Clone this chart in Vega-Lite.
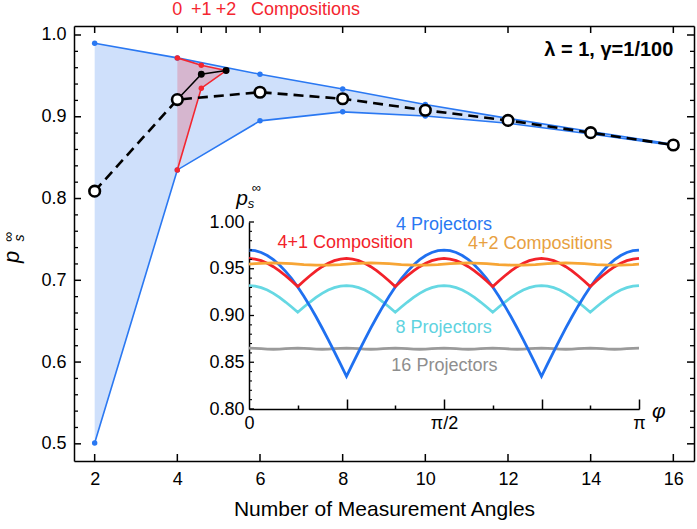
{
"$schema": "https://vega.github.io/schema/vega-lite/v6.json",
"width": 620, "height": 435,
"autosize": {"type": "none"},
"padding": {"left": 74, "top": 26, "right": 3, "bottom": 68},
"background": "white",
"config": {
  "view": {"stroke": null},
  "font": "Liberation Sans",
  "axis": {"grid": false, "labelFont": "Liberation Sans", "labelFontSize": 18, "labelColor": "black", "tickColor": "black", "tickWidth": 1.5, "domainColor": "black", "domainWidth": 1.5, "titleFont": "Liberation Sans", "titleFontWeight": "normal", "titleColor": "black", "labelFlush": false, "labelOverlap": false}
},
"datasets": {
  "main": [
    {"n":2,"hi":0.990,"lo":0.501,"avg":0.809},
    {"n":4,"hi":0.972,"lo":0.835,"avg":0.921},
    {"n":6,"hi":0.952,"lo":0.895,"avg":0.930},
    {"n":8,"hi":0.934,"lo":0.906,"avg":0.922},
    {"n":10,"hi":0.915,"lo":0.901,"avg":0.908},
    {"n":12,"hi":0.898,"lo":0.892,"avg":0.8955},
    {"n":14,"hi":0.882,"lo":0.879,"avg":0.8805},
    {"n":16,"hi":0.8662,"lo":0.8650,"avg":0.8655}
  ],
  "comp": [
    {"n":4,"rhi":0.972,"rlo":0.835,"blk":0.921},
    {"n":4.58,"rhi":0.963,"rlo":0.935,"blk":0.952},
    {"n":5.18,"rhi":0.9565,"rlo":0.9565,"blk":0.9565}
  ],
  "xtb": [{"n":2},{"n":4},{"n":6},{"n":8},{"n":10},{"n":12},{"n":14},{"n":16}],
  "xtt": [{"n":2},{"n":4},{"n":4.58},{"n":5.18},{"n":6},{"n":8},{"n":10},{"n":12},{"n":14},{"n":16}],
  "ytM": [{"v":0.5},{"v":0.6},{"v":0.7},{"v":0.8},{"v":0.9},{"v":1.0}],
  "ytm": [{"v":0.52},{"v":0.54},{"v":0.56},{"v":0.58},{"v":0.62},{"v":0.64},{"v":0.66},{"v":0.68},{"v":0.72},{"v":0.74},{"v":0.76},{"v":0.78},{"v":0.82},{"v":0.84},{"v":0.86},{"v":0.88},{"v":0.92},{"v":0.94},{"v":0.96},{"v":0.98}],
  "iytM": [{"v":0.8},{"v":0.85},{"v":0.9},{"v":0.95},{"v":1.0}],
  "iytm": [{"v":0.81},{"v":0.82},{"v":0.83},{"v":0.84},{"v":0.86},{"v":0.87},{"v":0.88},{"v":0.89},{"v":0.91},{"v":0.92},{"v":0.93},{"v":0.94},{"v":0.96},{"v":0.97},{"v":0.98},{"v":0.99}],
  "inset": [
    {"t":0,"b":0.97,"r":0.961,"c":0.932,"o":0.955,"g":0.8651},
    {"t":0.015625,"b":0.96935,"r":0.9604,"c":0.9315,"o":0.9555,"g":0.8649},
    {"t":0.03125,"b":0.96741,"r":0.9587,"c":0.9298,"o":0.9558,"g":0.8645},
    {"t":0.046875,"b":0.96419,"r":0.9559,"c":0.9272,"o":0.9561,"g":0.8641},
    {"t":0.0625,"b":0.95972,"r":0.9522,"c":0.9237,"o":0.9562,"g":0.8639},
    {"t":0.078125,"b":0.95406,"r":0.9477,"c":0.9193,"o":0.9561,"g":0.8641},
    {"t":0.09375,"b":0.94725,"r":0.9425,"c":0.9144,"o":0.9558,"g":0.8645},
    {"t":0.109375,"b":0.93936,"r":0.9369,"c":0.9091,"o":0.9555,"g":0.8649},
    {"t":0.125,"b":0.93046,"r":0.931,"c":0.9035,"o":0.955,"g":0.8651},
    {"t":0.140625,"b":0.92064,"r":0.9369,"c":0.9091,"o":0.9545,"g":0.8649},
    {"t":0.15625,"b":0.91,"r":0.9425,"c":0.9144,"o":0.9542,"g":0.8645},
    {"t":0.171875,"b":0.89864,"r":0.9477,"c":0.9193,"o":0.9539,"g":0.8641},
    {"t":0.1875,"b":0.88666,"r":0.9522,"c":0.9237,"o":0.9538,"g":0.8639},
    {"t":0.203125,"b":0.87419,"r":0.9559,"c":0.9272,"o":0.9539,"g":0.8641},
    {"t":0.21875,"b":0.86134,"r":0.9587,"c":0.9298,"o":0.9542,"g":0.8645},
    {"t":0.234375,"b":0.84823,"r":0.9604,"c":0.9315,"o":0.9545,"g":0.8649},
    {"t":0.25,"b":0.835,"r":0.961,"c":0.932,"o":0.955,"g":0.8651},
    {"t":0.265625,"b":0.84823,"r":0.9604,"c":0.9315,"o":0.9555,"g":0.8649},
    {"t":0.28125,"b":0.86134,"r":0.9587,"c":0.9298,"o":0.9558,"g":0.8645},
    {"t":0.296875,"b":0.87419,"r":0.9559,"c":0.9272,"o":0.9561,"g":0.8641},
    {"t":0.3125,"b":0.88666,"r":0.9522,"c":0.9237,"o":0.9562,"g":0.8639},
    {"t":0.328125,"b":0.89864,"r":0.9477,"c":0.9193,"o":0.9561,"g":0.8641},
    {"t":0.34375,"b":0.91,"r":0.9425,"c":0.9144,"o":0.9558,"g":0.8645},
    {"t":0.359375,"b":0.92064,"r":0.9369,"c":0.9091,"o":0.9555,"g":0.8649},
    {"t":0.375,"b":0.93046,"r":0.931,"c":0.9035,"o":0.955,"g":0.8651},
    {"t":0.390625,"b":0.93936,"r":0.9369,"c":0.9091,"o":0.9545,"g":0.8649},
    {"t":0.40625,"b":0.94725,"r":0.9425,"c":0.9144,"o":0.9542,"g":0.8645},
    {"t":0.421875,"b":0.95406,"r":0.9477,"c":0.9193,"o":0.9539,"g":0.8641},
    {"t":0.4375,"b":0.95972,"r":0.9522,"c":0.9237,"o":0.9538,"g":0.8639},
    {"t":0.453125,"b":0.96419,"r":0.9559,"c":0.9272,"o":0.9539,"g":0.8641},
    {"t":0.46875,"b":0.96741,"r":0.9587,"c":0.9298,"o":0.9542,"g":0.8645},
    {"t":0.484375,"b":0.96935,"r":0.9604,"c":0.9315,"o":0.9545,"g":0.8649},
    {"t":0.5,"b":0.97,"r":0.961,"c":0.932,"o":0.955,"g":0.8651},
    {"t":0.515625,"b":0.96935,"r":0.9604,"c":0.9315,"o":0.9555,"g":0.8649},
    {"t":0.53125,"b":0.96741,"r":0.9587,"c":0.9298,"o":0.9558,"g":0.8645},
    {"t":0.546875,"b":0.96419,"r":0.9559,"c":0.9272,"o":0.9561,"g":0.8641},
    {"t":0.5625,"b":0.95972,"r":0.9522,"c":0.9237,"o":0.9562,"g":0.8639},
    {"t":0.578125,"b":0.95406,"r":0.9477,"c":0.9193,"o":0.9561,"g":0.8641},
    {"t":0.59375,"b":0.94725,"r":0.9425,"c":0.9144,"o":0.9558,"g":0.8645},
    {"t":0.609375,"b":0.93936,"r":0.9369,"c":0.9091,"o":0.9555,"g":0.8649},
    {"t":0.625,"b":0.93046,"r":0.931,"c":0.9035,"o":0.955,"g":0.8651},
    {"t":0.640625,"b":0.92064,"r":0.9369,"c":0.9091,"o":0.9545,"g":0.8649},
    {"t":0.65625,"b":0.91,"r":0.9425,"c":0.9144,"o":0.9542,"g":0.8645},
    {"t":0.671875,"b":0.89864,"r":0.9477,"c":0.9193,"o":0.9539,"g":0.8641},
    {"t":0.6875,"b":0.88666,"r":0.9522,"c":0.9237,"o":0.9538,"g":0.8639},
    {"t":0.703125,"b":0.87419,"r":0.9559,"c":0.9272,"o":0.9539,"g":0.8641},
    {"t":0.71875,"b":0.86134,"r":0.9587,"c":0.9298,"o":0.9542,"g":0.8645},
    {"t":0.734375,"b":0.84823,"r":0.9604,"c":0.9315,"o":0.9545,"g":0.8649},
    {"t":0.75,"b":0.835,"r":0.961,"c":0.932,"o":0.955,"g":0.8651},
    {"t":0.765625,"b":0.84823,"r":0.9604,"c":0.9315,"o":0.9555,"g":0.8649},
    {"t":0.78125,"b":0.86134,"r":0.9587,"c":0.9298,"o":0.9558,"g":0.8645},
    {"t":0.796875,"b":0.87419,"r":0.9559,"c":0.9272,"o":0.9561,"g":0.8641},
    {"t":0.8125,"b":0.88666,"r":0.9522,"c":0.9237,"o":0.9562,"g":0.8639},
    {"t":0.828125,"b":0.89864,"r":0.9477,"c":0.9193,"o":0.9561,"g":0.8641},
    {"t":0.84375,"b":0.91,"r":0.9425,"c":0.9144,"o":0.9558,"g":0.8645},
    {"t":0.859375,"b":0.92064,"r":0.9369,"c":0.9091,"o":0.9555,"g":0.8649},
    {"t":0.875,"b":0.93046,"r":0.931,"c":0.9035,"o":0.955,"g":0.8651},
    {"t":0.890625,"b":0.93936,"r":0.9369,"c":0.9091,"o":0.9545,"g":0.8649},
    {"t":0.90625,"b":0.94725,"r":0.9425,"c":0.9144,"o":0.9542,"g":0.8645},
    {"t":0.921875,"b":0.95406,"r":0.9477,"c":0.9193,"o":0.9539,"g":0.8641},
    {"t":0.9375,"b":0.95972,"r":0.9522,"c":0.9237,"o":0.9538,"g":0.8639},
    {"t":0.953125,"b":0.96419,"r":0.9559,"c":0.9272,"o":0.9539,"g":0.8641},
    {"t":0.96875,"b":0.96741,"r":0.9587,"c":0.9298,"o":0.9542,"g":0.8645},
    {"t":0.984375,"b":0.96935,"r":0.9604,"c":0.9315,"o":0.9545,"g":0.8649},
    {"t":1,"b":0.97,"r":0.961,"c":0.932,"o":0.955,"g":0.8651}
  ],
  "ilab": [
    {"t":0.5,"v":0.997,"label":"4 Projectors","s":"b"},
    {"t":0.247,"v":0.9774,"label":"4+1 Composition","s":"r"},
    {"t":0.747,"v":0.9763,"label":"4+2 Compositions","s":"o"},
    {"t":0.499,"v":0.8864,"label":"8 Projectors","s":"c"},
    {"t":0.501,"v":0.846,"label":"16 Projectors","s":"g"}
  ]
},
"resolve": {"scale": {"x": "independent", "y": "independent"}},
"layer": [
{
  "resolve": {"axis": {"x": "independent", "y": "independent"}},
  "layer": [
    {"data": {"name": "main"}, "mark": {"type": "area", "color": "#cfe0fb", "opacity": 1},
     "encoding": {
       "x": {"field": "n", "type": "quantitative", "scale": {"domain": [1.5, 16.5], "nice": false, "zero": false},
             "axis": {"orient": "bottom", "values": [2,4,6,8,10,12,14,16], "ticks": false, "labelPadding": 9, "title": "Number of Measurement Angles", "titleFontSize": 21, "titlePadding": 10}},
       "y": {"field": "lo", "type": "quantitative", "scale": {"domain": [0.479, 1.011], "nice": false, "zero": false},
             "axis": {"orient": "left", "values": [0.5,0.6,0.7,0.8,0.9,1.0], "format": ".1f", "ticks": false, "labelPadding": 8, "title": null}},
       "y2": {"field": "hi"}}},
    {"data": {"name": "comp"}, "mark": {"type": "area", "color": "#d6b6cf", "opacity": 1},
     "encoding": {
       "x": {"field": "n", "type": "quantitative", "scale": {"domain": [1.5, 16.5], "nice": false, "zero": false},
             "axis": {"orient": "top", "values": [2,4,6,8,10,12,14,16], "labels": false, "ticks": false, "title": null}},
       "y": {"field": "rlo", "type": "quantitative", "scale": {"domain": [0.479, 1.011], "nice": false, "zero": false},
             "axis": {"orient": "right", "values": [0.5,0.6,0.7,0.8,0.9,1.0], "labels": false, "ticks": false, "title": null}},
       "y2": {"field": "rhi"}}},
    {"data": {"name": "main"}, "mark": {"type": "line", "color": "#2a78f2", "strokeWidth": 1.6},
     "encoding": {
       "x": {"field": "n", "type": "quantitative", "scale": {"domain": [1.5, 16.5], "nice": false, "zero": false}, "axis": null},
       "y": {"field": "hi", "type": "quantitative", "scale": {"domain": [0.479, 1.011], "nice": false, "zero": false}, "axis": null}}},
    {"data": {"name": "main"}, "mark": {"type": "line", "color": "#2a78f2", "strokeWidth": 1.6},
     "encoding": {
       "x": {"field": "n", "type": "quantitative", "scale": {"domain": [1.5, 16.5], "nice": false, "zero": false}, "axis": null},
       "y": {"field": "lo", "type": "quantitative", "scale": {"domain": [0.479, 1.011], "nice": false, "zero": false}, "axis": null}}},
    {"data": {"name": "main"}, "mark": {"type": "point", "filled": true, "color": "#2a78f2", "size": 30, "opacity": 1},
     "encoding": {
       "x": {"field": "n", "type": "quantitative", "scale": {"domain": [1.5, 16.5], "nice": false, "zero": false}, "axis": null},
       "y": {"field": "hi", "type": "quantitative", "scale": {"domain": [0.479, 1.011], "nice": false, "zero": false}, "axis": null}}},
    {"data": {"name": "main"}, "mark": {"type": "point", "filled": true, "color": "#2a78f2", "size": 30, "opacity": 1},
     "encoding": {
       "x": {"field": "n", "type": "quantitative", "scale": {"domain": [1.5, 16.5], "nice": false, "zero": false}, "axis": null},
       "y": {"field": "lo", "type": "quantitative", "scale": {"domain": [0.479, 1.011], "nice": false, "zero": false}, "axis": null}}},
    {"data": {"name": "comp"}, "mark": {"type": "line", "color": "#f42630", "strokeWidth": 1.6},
     "encoding": {
       "x": {"field": "n", "type": "quantitative", "scale": {"domain": [1.5, 16.5], "nice": false, "zero": false}, "axis": null},
       "y": {"field": "rhi", "type": "quantitative", "scale": {"domain": [0.479, 1.011], "nice": false, "zero": false}, "axis": null}}},
    {"data": {"name": "comp"}, "mark": {"type": "line", "color": "#f42630", "strokeWidth": 1.6},
     "encoding": {
       "x": {"field": "n", "type": "quantitative", "scale": {"domain": [1.5, 16.5], "nice": false, "zero": false}, "axis": null},
       "y": {"field": "rlo", "type": "quantitative", "scale": {"domain": [0.479, 1.011], "nice": false, "zero": false}, "axis": null}}},
    {"data": {"name": "comp"}, "mark": {"type": "point", "filled": true, "color": "#f42630", "size": 30, "opacity": 1},
     "encoding": {
       "x": {"field": "n", "type": "quantitative", "scale": {"domain": [1.5, 16.5], "nice": false, "zero": false}, "axis": null},
       "y": {"field": "rhi", "type": "quantitative", "scale": {"domain": [0.479, 1.011], "nice": false, "zero": false}, "axis": null}}},
    {"data": {"name": "comp"}, "mark": {"type": "point", "filled": true, "color": "#f42630", "size": 30, "opacity": 1},
     "encoding": {
       "x": {"field": "n", "type": "quantitative", "scale": {"domain": [1.5, 16.5], "nice": false, "zero": false}, "axis": null},
       "y": {"field": "rlo", "type": "quantitative", "scale": {"domain": [0.479, 1.011], "nice": false, "zero": false}, "axis": null}}},
    {"data": {"name": "comp"}, "mark": {"type": "line", "color": "black", "strokeWidth": 1.5},
     "encoding": {
       "x": {"field": "n", "type": "quantitative", "scale": {"domain": [1.5, 16.5], "nice": false, "zero": false}, "axis": null},
       "y": {"field": "blk", "type": "quantitative", "scale": {"domain": [0.479, 1.011], "nice": false, "zero": false}, "axis": null}}},
    {"data": {"name": "comp"}, "mark": {"type": "point", "filled": true, "color": "black", "size": 48, "opacity": 1},
     "encoding": {
       "x": {"field": "n", "type": "quantitative", "scale": {"domain": [1.5, 16.5], "nice": false, "zero": false}, "axis": null},
       "y": {"field": "blk", "type": "quantitative", "scale": {"domain": [0.479, 1.011], "nice": false, "zero": false}, "axis": null}}},
    {"data": {"name": "main"}, "mark": {"type": "line", "color": "black", "strokeWidth": 2.6, "strokeDash": [10, 6]},
     "encoding": {
       "x": {"field": "n", "type": "quantitative", "scale": {"domain": [1.5, 16.5], "nice": false, "zero": false}, "axis": null},
       "y": {"field": "avg", "type": "quantitative", "scale": {"domain": [0.479, 1.011], "nice": false, "zero": false}, "axis": null}}},
    {"data": {"name": "main"}, "mark": {"type": "point", "filled": true, "fill": "white", "stroke": "black", "strokeWidth": 2.6, "size": 112, "opacity": 1},
     "encoding": {
       "x": {"field": "n", "type": "quantitative", "scale": {"domain": [1.5, 16.5], "nice": false, "zero": false}, "axis": null},
       "y": {"field": "avg", "type": "quantitative", "scale": {"domain": [0.479, 1.011], "nice": false, "zero": false}, "axis": null}}},
    {"data": {"name": "xtb"}, "mark": {"type": "tick", "orient": "vertical", "size": 7, "thickness": 1.5, "color": "black", "opacity": 1, "yOffset": -3.5},
     "encoding": {
       "x": {"field": "n", "type": "quantitative", "scale": {"domain": [1.5, 16.5], "nice": false, "zero": false}, "axis": null},
       "y": {"datum": 0.479, "type": "quantitative", "scale": {"domain": [0.479, 1.011], "nice": false, "zero": false}, "axis": null}}},
    {"data": {"name": "xtt"}, "mark": {"type": "tick", "orient": "vertical", "size": 7, "thickness": 1.5, "color": "black", "opacity": 1, "yOffset": 3.5},
     "encoding": {
       "x": {"field": "n", "type": "quantitative", "scale": {"domain": [1.5, 16.5], "nice": false, "zero": false}, "axis": null},
       "y": {"datum": 1.011, "type": "quantitative", "scale": {"domain": [0.479, 1.011], "nice": false, "zero": false}, "axis": null}}},
    {"data": {"name": "ytM"}, "mark": {"type": "tick", "orient": "horizontal", "size": 7, "thickness": 1.5, "color": "black", "opacity": 1, "xOffset": 3.5},
     "encoding": {
       "y": {"field": "v", "type": "quantitative", "scale": {"domain": [0.479, 1.011], "nice": false, "zero": false}, "axis": null},
       "x": {"datum": 1.5, "type": "quantitative", "scale": {"domain": [1.5, 16.5], "nice": false, "zero": false}, "axis": null}}},
    {"data": {"name": "ytm"}, "mark": {"type": "tick", "orient": "horizontal", "size": 4, "thickness": 1.3, "color": "black", "opacity": 1, "xOffset": 2},
     "encoding": {
       "y": {"field": "v", "type": "quantitative", "scale": {"domain": [0.479, 1.011], "nice": false, "zero": false}, "axis": null},
       "x": {"datum": 1.5, "type": "quantitative", "scale": {"domain": [1.5, 16.5], "nice": false, "zero": false}, "axis": null}}},
    {"data": {"name": "ytM"}, "mark": {"type": "tick", "orient": "horizontal", "size": 7, "thickness": 1.5, "color": "black", "opacity": 1, "xOffset": -3.5},
     "encoding": {
       "y": {"field": "v", "type": "quantitative", "scale": {"domain": [0.479, 1.011], "nice": false, "zero": false}, "axis": null},
       "x": {"datum": 16.5, "type": "quantitative", "scale": {"domain": [1.5, 16.5], "nice": false, "zero": false}, "axis": null}}},
    {"data": {"name": "ytm"}, "mark": {"type": "tick", "orient": "horizontal", "size": 4, "thickness": 1.3, "color": "black", "opacity": 1, "xOffset": -2},
     "encoding": {
       "y": {"field": "v", "type": "quantitative", "scale": {"domain": [0.479, 1.011], "nice": false, "zero": false}, "axis": null},
       "x": {"datum": 16.5, "type": "quantitative", "scale": {"domain": [1.5, 16.5], "nice": false, "zero": false}, "axis": null}}},
    {"data": {"values": [{"n":4,"v":1.0300,"label":"0"},{"n":4.58,"v":1.0300,"label":"+1"},{"n":5.18,"v":1.0300,"label":"+2"},{"n":7.1,"v":1.0300,"label":"Compositions"}]},
     "mark": {"type": "text", "color": "#f42630", "fontSize": 18, "font": "Liberation Sans", "align": "center", "baseline": "middle"},
     "encoding": {
       "x": {"field": "n", "type": "quantitative", "scale": {"domain": [1.5, 16.5], "nice": false, "zero": false}, "axis": null},
       "y": {"field": "v", "type": "quantitative", "scale": {"domain": [0.479, 1.011], "nice": false, "zero": false}, "axis": null},
       "text": {"field": "label"}}},
    {"data": {"values": [{"n":16,"v":0.9817,"label":"λ = 1, γ=1/100"}]},
     "mark": {"type": "text", "color": "black", "fontSize": 20, "fontWeight": "bold", "font": "Liberation Sans", "align": "right", "baseline": "middle"},
     "encoding": {
       "x": {"field": "n", "type": "quantitative", "scale": {"domain": [1.5, 16.5], "nice": false, "zero": false}, "axis": null},
       "y": {"field": "v", "type": "quantitative", "scale": {"domain": [0.479, 1.011], "nice": false, "zero": false}, "axis": null},
       "text": {"field": "label"}}},
    {"data": {"values": [{"n":0.012,"v":0.7285,"label":"p"}]},
     "mark": {"type": "text", "color": "black", "fontSize": 22, "fontStyle": "italic", "font": "Liberation Sans", "align": "center", "baseline": "middle", "angle": 270},
     "encoding": {
       "x": {"field": "n", "type": "quantitative", "scale": {"domain": [1.5, 16.5], "nice": false, "zero": false}, "axis": null},
       "y": {"field": "v", "type": "quantitative", "scale": {"domain": [0.479, 1.011], "nice": false, "zero": false}, "axis": null},
       "text": {"field": "label"}}},
    {"data": {"values": [{"n":0.1935,"v":0.7517,"label":"s"},{"n":-0.0726,"v":0.753,"label":"∞"}]},
     "mark": {"type": "text", "color": "black", "fontSize": 14, "fontStyle": "italic", "font": "Liberation Sans", "align": "center", "baseline": "middle", "angle": 270},
     "encoding": {
       "x": {"field": "n", "type": "quantitative", "scale": {"domain": [1.5, 16.5], "nice": false, "zero": false}, "axis": null},
       "y": {"field": "v", "type": "quantitative", "scale": {"domain": [0.479, 1.011], "nice": false, "zero": false}, "axis": null},
       "text": {"field": "label"}}}
  ]
},
{
  "resolve": {"axis": {"x": "independent", "y": "independent"}},
  "layer": [
    {"data": {"name": "inset"}, "mark": {"type": "line", "color": "#9a9a9a", "strokeWidth": 2.8},
     "encoding": {
       "x": {"field": "t", "type": "quantitative", "scale": {"domain": [0, 1], "range": [175, 565], "nice": false, "zero": false},
             "axis": {"orient": "bottom", "offset": -52, "values": [0, 0.5, 1], "labelExpr": "datum.value == 0 ? '0' : (datum.value == 1 ? 'π' : 'π/2')", "ticks": false, "labelPadding": 5, "title": null}},
       "y": {"field": "g", "type": "quantitative", "scale": {"domain": [0.8, 1.0], "range": [383, 196], "nice": false, "zero": false},
             "axis": {"orient": "left", "offset": -175, "values": [0.8, 0.85, 0.9, 0.95, 1.0], "format": ".2f", "ticks": false, "labelPadding": 5, "title": null}}}},
    {"data": {"name": "inset"}, "mark": {"type": "line", "color": "#66d8e3", "strokeWidth": 2.8},
     "encoding": {
       "x": {"field": "t", "type": "quantitative", "scale": {"domain": [0, 1], "range": [175, 565], "nice": false, "zero": false},
             "axis": {"orient": "bottom", "offset": -52, "values": [0.25, 0.5, 0.75, 1], "labels": false, "domain": false, "tickSize": -10, "title": null}},
       "y": {"field": "c", "type": "quantitative", "scale": {"domain": [0.8, 1.0], "range": [383, 196], "nice": false, "zero": false}, "axis": null}}},
    {"data": {"name": "inset"}, "mark": {"type": "line", "color": "#1f70f0", "strokeWidth": 2.8},
     "encoding": {
       "x": {"field": "t", "type": "quantitative", "scale": {"domain": [0, 1], "range": [175, 565], "nice": false, "zero": false},
             "axis": {"orient": "bottom", "offset": -52, "values": [0.125, 0.375, 0.625, 0.875], "labels": false, "domain": false, "tickSize": -4, "title": null}},
       "y": {"field": "b", "type": "quantitative", "scale": {"domain": [0.8, 1.0], "range": [383, 196], "nice": false, "zero": false}, "axis": null}}},
    {"data": {"name": "inset"}, "mark": {"type": "line", "color": "#f2222a", "strokeWidth": 2.8},
     "encoding": {
       "x": {"field": "t", "type": "quantitative", "scale": {"domain": [0, 1], "range": [175, 565], "nice": false, "zero": false}, "axis": null},
       "y": {"field": "r", "type": "quantitative", "scale": {"domain": [0.8, 1.0], "range": [383, 196], "nice": false, "zero": false}, "axis": null}}},
    {"data": {"name": "inset"}, "mark": {"type": "line", "color": "#f7a535", "strokeWidth": 2.8},
     "encoding": {
       "x": {"field": "t", "type": "quantitative", "scale": {"domain": [0, 1], "range": [175, 565], "nice": false, "zero": false}, "axis": null},
       "y": {"field": "o", "type": "quantitative", "scale": {"domain": [0.8, 1.0], "range": [383, 196], "nice": false, "zero": false}, "axis": null}}},
    {"data": {"name": "iytM"}, "mark": {"type": "tick", "orient": "horizontal", "size": 5, "thickness": 1.3, "color": "black", "opacity": 1, "xOffset": 2.5},
     "encoding": {
       "y": {"field": "v", "type": "quantitative", "scale": {"domain": [0.8, 1.0], "range": [383, 196], "nice": false, "zero": false}, "axis": null},
       "x": {"datum": 0, "type": "quantitative", "scale": {"domain": [0, 1], "range": [175, 565], "nice": false, "zero": false}, "axis": null}}},
    {"data": {"name": "iytm"}, "mark": {"type": "tick", "orient": "horizontal", "size": 3, "thickness": 1.1, "color": "black", "opacity": 1, "xOffset": 1.5},
     "encoding": {
       "y": {"field": "v", "type": "quantitative", "scale": {"domain": [0.8, 1.0], "range": [383, 196], "nice": false, "zero": false}, "axis": null},
       "x": {"datum": 0, "type": "quantitative", "scale": {"domain": [0, 1], "range": [175, 565], "nice": false, "zero": false}, "axis": null}}},
    {"data": {"name": "ilab"}, "mark": {"type": "text", "fontSize": 18, "font": "Liberation Sans", "align": "center", "baseline": "middle"},
     "encoding": {
       "x": {"field": "t", "type": "quantitative", "scale": {"domain": [0, 1], "range": [175, 565], "nice": false, "zero": false}, "axis": null},
       "y": {"field": "v", "type": "quantitative", "scale": {"domain": [0.8, 1.0], "range": [383, 196], "nice": false, "zero": false}, "axis": null},
       "color": {"field": "s", "type": "nominal", "scale": {"domain": ["b","r","o","c","g"], "range": ["#2a78f2","#f2222a","#e8a040","#5fd3df","#8e8e8e"]}, "legend": null},
       "text": {"field": "label"}}},
    {"data": {"values": [{"t":-0.018,"v":1.0248,"label":"p"},{"t":1.051,"v":0.7973,"label":"φ"}]},
     "mark": {"type": "text", "color": "black", "fontSize": 21, "fontStyle": "italic", "font": "Liberation Sans", "align": "center", "baseline": "middle"},
     "encoding": {
       "x": {"field": "t", "type": "quantitative", "scale": {"domain": [0, 1], "range": [175, 565], "nice": false, "zero": false}, "axis": null},
       "y": {"field": "v", "type": "quantitative", "scale": {"domain": [0.8, 1.0], "range": [383, 196], "nice": false, "zero": false}, "axis": null},
       "text": {"field": "label"}}},
    {"data": {"values": [{"t":0.005,"v":1.0195,"label":"s"},{"t":0.018,"v":1.0366,"label":"∞"}]},
     "mark": {"type": "text", "color": "black", "fontSize": 13, "fontStyle": "italic", "font": "Liberation Sans", "align": "center", "baseline": "middle"},
     "encoding": {
       "x": {"field": "t", "type": "quantitative", "scale": {"domain": [0, 1], "range": [175, 565], "nice": false, "zero": false}, "axis": null},
       "y": {"field": "v", "type": "quantitative", "scale": {"domain": [0.8, 1.0], "range": [383, 196], "nice": false, "zero": false}, "axis": null},
       "text": {"field": "label"}}}
  ]
}
]
}
